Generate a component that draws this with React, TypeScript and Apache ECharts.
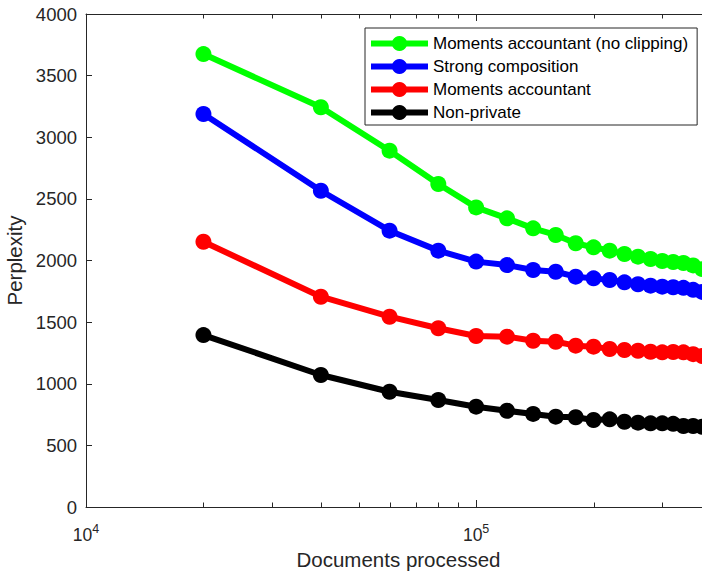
import React, { useEffect, useRef } from "react";
import * as echarts from "echarts";

const documentsProcessed = [
  20000, 40000, 60000, 80000, 100000, 120000, 140000, 160000, 180000, 200000,
  220000, 240000, 260000, 280000, 300000, 320000, 340000, 360000, 380000,
];
const momentsNoClipping = [
  3675, 3243, 2891, 2621, 2431, 2342, 2261, 2207, 2140, 2107, 2080, 2053, 2031,
  2012, 1996, 1988, 1980, 1960, 1930,
];
const strongComposition = [
  3189, 2566, 2242, 2080, 1991, 1963, 1923, 1909, 1869, 1855, 1842, 1823, 1807,
  1796, 1788, 1783, 1778, 1762, 1745,
];
const momentsAccountant = [
  2152, 1706, 1544, 1450, 1387, 1382, 1349, 1341, 1309, 1301, 1282, 1274, 1268,
  1260, 1255, 1258, 1255, 1240, 1225,
];
const nonPrivate = [
  1395, 1071, 935, 868, 814, 781, 755, 733, 728, 706, 711, 692, 684, 679, 679,
  675, 657, 657, 651,
];
const seriesNames = [
  "Moments accountant (no clipping)",
  "Strong composition",
  "Moments accountant",
  "Non-private",
];
const seriesColors = ["#00ff00", "#0000ff", "#ff0000", "#000000"];
const minorTickValues = [
  20000, 30000, 40000, 50000, 60000, 70000, 80000, 90000, 200000, 300000,
];
const xMin = 10000;
const xMax = 400000;
const yMin = 0;
const yMax = 4000;
const yInterval = 500;

const FONT = "'Liberation Sans', Arial, Helvetica, sans-serif";
const AXIS_COLOR = "#262626";

export default function App() {
  const ref = useRef<HTMLDivElement>(null);

  useEffect(() => {
    if (!ref.current) return;
    const chart = echarts.init(ref.current, undefined, { renderer: "svg" });
    const allData = [momentsNoClipping, strongComposition, momentsAccountant, nonPrivate];

    const xLabelFormatter = (v: number) => {
      const e = Math.log10(v);
      if (Math.abs(e - Math.round(e)) < 1e-9) {
        return `{b|10}{s|${Math.round(e)}}`;
      }
      return "";
    };

    const baseX = {
      type: "log" as const,
      logBase: 10,
      min: xMin,
      max: xMax,
      splitLine: { show: false },
      axisLine: { show: true, lineStyle: { color: AXIS_COLOR, width: 1 } },
      axisTick: { show: true, inside: true, length: 7, lineStyle: { color: AXIS_COLOR } },
    };

    chart.setOption({
      animation: false,
      backgroundColor: "#ffffff",
      textStyle: { fontFamily: FONT },
      grid: {
        left: 86,
        top: 14,
        right: -9,
        bottom: 64,
        containLabel: false,
        outerBoundsMode: "none",
      },
      xAxis: [
        {
          ...baseX,
          position: "bottom",
          name: "Documents processed",
          nameLocation: "middle",
          nameGap: 42,
          nameTextStyle: { fontSize: 20.5, color: AXIS_COLOR, fontFamily: FONT },
          axisLabel: {
            show: true,
            margin: 15,
            formatter: xLabelFormatter,
            showMaxLabel: false,
            rich: {
              b: { fontSize: 17.5, lineHeight: 25, color: AXIS_COLOR, fontFamily: FONT },
              s: { fontSize: 12.5, lineHeight: 13, color: AXIS_COLOR, fontFamily: FONT, verticalAlign: "top" },
            },
          },
        },
        {
          ...baseX,
          position: "top",
          axisLabel: { show: false },
        },
      ],
      yAxis: {
        type: "value",
        min: yMin,
        max: yMax,
        interval: yInterval,
        splitLine: { show: false },
        axisLine: { show: true, lineStyle: { color: AXIS_COLOR, width: 1 } },
        axisTick: { show: true, inside: true, length: 6, lineStyle: { color: AXIS_COLOR } },
        axisLabel: {
          fontSize: 18.5,
          color: AXIS_COLOR,
          margin: 9,
          fontFamily: FONT,
          formatter: (v: number) => String(v),
        },
        name: "Perplexity",
        nameLocation: "middle",
        nameGap: 58,
        nameTextStyle: { fontSize: 20.5, color: AXIS_COLOR, fontFamily: FONT },
      },
      legend: {
        orient: "vertical",
        left: 365,
        top: 28,
        data: seriesNames,
        itemWidth: 57,
        itemHeight: 19,
        itemGap: 4,
        padding: [6, 9, 3, 3],
        borderColor: AXIS_COLOR,
        borderWidth: 1,
        backgroundColor: "#ffffff",
        lineStyle: { width: 6 },
        textStyle: { fontSize: 17, lineHeight: 19, height: 19, color: "#000000", fontFamily: FONT },
      },
      series: seriesNames.map((name, i) => ({
        name,
        type: "line",
        xAxisIndex: 0,
        data: documentsProcessed.map((x, j) => [x, allData[i][j]]),
        symbol: "circle",
        symbolSize: 16,
        showSymbol: true,
        lineStyle: { color: seriesColors[i], width: 6 },
        itemStyle: { color: seriesColors[i], borderWidth: 0 },
        emphasis: { disabled: true },
        z: 2 + i,
      })),
    });

    const yBottom = chart.convertToPixel({ yAxisIndex: 0 }, yMin) as number;
    const yTop = chart.convertToPixel({ yAxisIndex: 0 }, yMax) as number;
    const graphics: any[] = [];
    minorTickValues.forEach((v) => {
      const px = Math.round(chart.convertToPixel({ xAxisIndex: 0 }, v) as number) + 0.5;
      graphics.push({
        type: "line",
        shape: { x1: px, y1: yBottom, x2: px, y2: yBottom - 4.5 },
        style: { stroke: AXIS_COLOR, lineWidth: 1 },
        z: 1,
      });
      graphics.push({
        type: "line",
        shape: { x1: px, y1: yTop, x2: px, y2: yTop + 4.5 },
        style: { stroke: AXIS_COLOR, lineWidth: 1 },
        z: 1,
      });
    });
    chart.setOption({ graphic: graphics });

    return () => chart.dispose();
  }, []);

  return (
    <div
      ref={ref}
      style={{ position: "absolute", left: 0, top: 0, width: 702, height: 571 }}
    />
  );
}
